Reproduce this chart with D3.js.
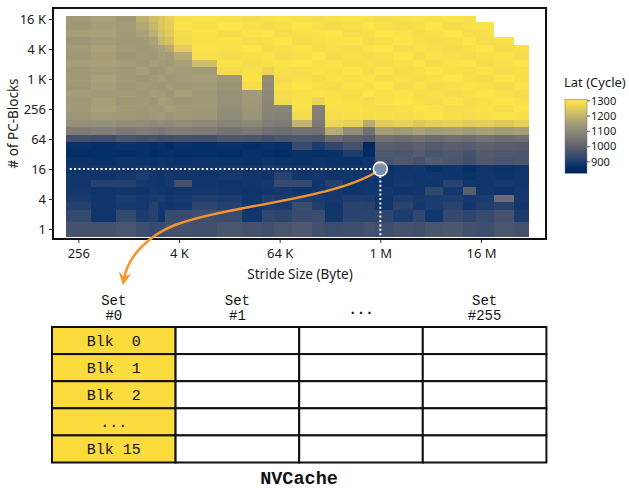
<!DOCTYPE html>
<html><head><meta charset="utf-8">
<script src="https://cdn.jsdelivr.net/npm/d3@7"></script>
<style>
html,body{margin:0;padding:0;background:#fff;}
svg{display:block;}
text{font-family:"Noto Sans",sans-serif;}
.mono{font-family:"Liberation Mono",monospace;white-space:pre;}
</style></head><body>
<svg id="chart" width="629" height="489"></svg>
<script>
// ---------- data ----------
const strides = [256,512,1024,1536,2048,2560,3072,4096,8192,16384,32768,49152,65536,131072,196608,262144,524288,786432,1048576,2097152,3145728,4194304,8388608,12582912,16777216,33554432,50331648];
const pcBlocks = [16384,12288,8192,6144,4096,3072,2048,1536,1024,768,512,384,256,192,128,96,64,48,32,24,16,12,8,6,4,3,2,1];
const latency = [
 [1145,1155,1140,1190,1220,1240,1260,1290,1295, 1290,1285,1290,1295,1290,1285,1290,1295,1290, 1285,1290,1295,1290,1295,1290,null,null,null],
 [1140,1150,1145,1175,1210,1240,1255,1295,1290, 1300,1290,1285,1290,1300,1290,1285,1290,1300, 1290,1285,1290,1300,1285,1290,1295,null,null],
 [1150,1155,1145,1155,1190,1230,1250,1285,1295, 1285,1295,1300,1285,1290,1295,1300,1285,1290, 1300,1295,1285,1290,1300,1285,1290,null,null],
 [1135,1145,1140,1145,1155,1210,1230,1280,1290, 1295,1285,1290,1300,1285,1290,1295,1300,1285, 1290,1300,1290,1285,1290,1300,1285,1290,null],
 [1145,1160,1145,1140,1145,1155,1180,1250,1295, 1290,1300,1285,1290,1295,1285,1290,1285,1295, 1300,1285,1295,1290,1285,1290,1300,1285,1290],
 [1140,1150,1135,1145,1140,1150,1145,1180,1290, 1285,1290,1295,1285,1290,1300,1285,1290,1285, 1290,1300,1285,1295,1290,1285,1290,1295,1285],
 [1150,1155,1150,1140,1150,1145,1140,1155,1220, 1295,1285,1290,1295,1300,1290,1295,1285,1290, 1285,1290,1300,1285,1295,1300,1285,1290,1300],
 [1140,1145,1140,1150,1135,1140,1150,1145,1145, 1280,1290,1270,1290,1285,1295,1290,1300,1285, 1295,1285,1290,1300,1290,1285,1295,1285,1290],
 [1145,1155,1145,1135,1145,1150,1140,1145,1150, 1135,1295,1110,1285,1290,1285,1295,1290,1295, 1285,1290,1285,1290,1300,1290,1285,1300,1290],
 [1135,1150,1140,1145,1140,1135,1145,1140,1145, 1130,1285,1105,1290,1300,1290,1285,1295,1290, 1300,1285,1295,1285,1290,1295,1290,1285,1295],
 [1150,1145,1145,1140,1150,1145,1135,1150,1140, 1125,1145,1100,1285,1290,1295,1290,1285,1300, 1290,1295,1285,1290,1285,1290,1300,1290,1285],
 [1140,1150,1135,1145,1135,1150,1145,1135,1145, 1120,1140,1095,1280,1295,1270,1295,1290,1285, 1295,1300,1290,1285,1295,1285,1290,1300,1290],
 [1145,1155,1145,1140,1145,1140,1150,1145,1140, 1115,1135,1090,1090,1290,1080,1290,1295,1290, 1285,1290,1300,1295,1285,1290,1295,1285,1300],
 [1135,1145,1140,1135,1140,1145,1135,1140,1135, 1105,1130,1085,1080,1280,1075,1285,1290,1285, 1290,1285,1290,1300,1290,1285,1290,1295,1290],
 [1115,1120,1110,1110,1105,1110,1105,1110,1105, 1085,1100,1070,1065,1200,1060,1270,1260,1180, 1250,1260,1245,1255,1260,1250,1255,1245,1260],
 [1065,1075,1060,1070,1065,1055,1065,1070,1065, 1045,1055,1035,1030,1045,1035,1180,1110,1040, 1150,1140,1160,1145,1150,1140,1155,1145,1150],
 [960,950,965,955,960,950,955,960,955, 970,965,960,965,970,965,1020,1000,985, 1035,1030,1040,1025,1035,1030,1040,1030,1035],
 [870,865,875,870,865,870,860,870,865, 870,865,870,865,940,900,930,960,850, 990,985,995,980,990,985,1000,990,985],
 [860,865,860,870,860,865,870,860,865, 860,870,865,860,870,865,870,900,855, 975,970,985,965,975,960,980,975,970],
 [875,870,880,875,870,880,875,870,880, 875,870,880,875,870,880,875,870,880, 965,975,960,980,970,955,975,965,970],
 [880,885,880,890,880,885,880,885,880, 885,880,890,885,880,885,880,885,880, 875,880,885,870,880,865,880,875,880],
 [885,880,890,900,885,880,890,885,880, 890,885,880,920,885,890,880,885,890, 880,885,880,885,880,875,885,880,885],
 [885,915,915,890,885,880,890,960,885, 880,885,890,940,935,885,915,880,885, 880,890,885,880,920,885,880,890,885],
 [890,880,885,880,890,885,880,885,890, 885,880,885,890,880,885,890,880,885, 890,880,885,930,890,990,885,880,890],
 [895,885,900,890,895,900,890,895,905, 900,885,905,895,910,900,890,905,900, 885,905,895,900,905,890,900,1030,890],
 [915,885,895,890,915,890,885,890,925, 915,885,900,895,945,905,885,920,915, 885,920,890,900,920,885,905,920,885],
 [935,882,935,900,915,880,940,940,950, 945,885,930,925,940,945,885,920,920, 925,900,930,885,935,925,940,960,900],
 [960,960,965,950,940,940,955,960,955, 965,960,955,965,975,955,945,948,960, 950,960,955,965,970,958,948,965,960]
];
const xTickValues = [256,4096,65536,1048576,16777216];
const xTickLabels = ["256","4 K","64 K","1 M","16 M"];
const yTickValues = [1,4,16,64,256,1024,4096,16384];
const yTickLabels = ["1","4","16","64","256","1 K","4 K","16 K"];
const latLimits = [825,1310];
const legendTicks = [900,1000,1100,1200,1300];
const highlight = {stride:1048576, blocks:16};
const setLabels = [["Set","#0"],["Set","#1"],["..."],["Set","#255"]];
const blockLabels = ["Blk  0","Blk  1","Blk  2","...","Blk 15"];

// ---------- layout ----------
const svg = d3.select("#chart");
const panel = {x:53, y:8, w:493, h:231};
const x = d3.scaleLog().base(2).domain([256,16777216]).range([78.3,481]);
const y = d3.scaleLog().base(2).domain([1,16384]).range([229,19]);
const color = d3.scaleSequential(d3.interpolateCividis).domain(latLimits).clamp(true);

const lx = strides.map(Math.log2);
const xEdges = strides.map((s,i)=>{
  const l = lx[i];
  const left = i===0 ? l-(lx[1]-l)/2 : (l+lx[i-1])/2;
  const right = i===lx.length-1 ? l+(l-lx[i-1])/2 : (l+lx[i+1])/2;
  return [x(2**left), x(2**right)];
});
const ly = pcBlocks.map(Math.log2);
const yEdges = pcBlocks.map((b,i)=>{
  const l = ly[i];
  const top = i===0 ? l+(l-ly[1])/2 : (l+ly[i-1])/2;
  const bot = i===ly.length-1 ? l-(ly[i-1]-l)/2 : (l+ly[i+1])/2;
  return [y(2**top), y(2**bot)];
});

const cells = [];
latency.forEach((row,ri)=>row.forEach((v,ci)=>{ if(v!==null) cells.push({ri,ci,v}); }));

svg.append("g").attr("shape-rendering","crispEdges")
  .selectAll("rect").data(cells).join("rect")
  .attr("x",d=>xEdges[d.ci][0]).attr("width",d=>xEdges[d.ci][1]-xEdges[d.ci][0]+0.5)
  .attr("y",d=>yEdges[d.ri][0]).attr("height",d=>yEdges[d.ri][1]-yEdges[d.ri][0]+0.5)
  .attr("fill",d=>color(d.v));

// highlight lines
const hx = x(highlight.stride), hy = y(highlight.blocks);
const hmLeft = xEdges[0][0], hmBottom = yEdges[yEdges.length-1][1];
svg.append("line").attr("x1",hmLeft+4).attr("x2",hx-7).attr("y1",hy).attr("y2",hy)
  .attr("stroke","#fff").attr("stroke-width",2).attr("stroke-dasharray","2,2.4");
svg.append("line").attr("x1",hx).attr("x2",hx).attr("y1",hy+7).attr("y2",hmBottom)
  .attr("stroke","#fff").attr("stroke-width",2).attr("stroke-dasharray","2,2.4");

// panel border
svg.append("rect").attr("x",panel.x).attr("y",panel.y).attr("width",panel.w).attr("height",panel.h)
  .attr("fill","none").attr("stroke","#111").attr("stroke-width",2);

// axes
const xAxis = svg.append("g").attr("transform",`translate(0,${panel.y+panel.h+1})`)
  .call(d3.axisBottom(x).tickValues(xTickValues).tickFormat((d,i)=>xTickLabels[i]).tickSize(3).tickPadding(6));
const yAxis = svg.append("g").attr("transform",`translate(${panel.x-1},0)`)
  .call(d3.axisLeft(y).tickValues(yTickValues).tickFormat((d,i)=>yTickLabels[i]).tickSize(3).tickPadding(3));
[xAxis,yAxis].forEach(g=>{
  g.select(".domain").remove();
  g.selectAll(".tick line").attr("stroke","#333");
  g.selectAll(".tick text").attr("fill","#1a1a1a").style("font-size","13px").style("font-family","'Noto Sans',sans-serif");
});
svg.append("text").attr("x",300).attr("y",279).attr("text-anchor","middle")
  .style("font-size","13.5px").attr("fill","#1a1a1a").text("Stride Size (Byte)");
svg.append("text").attr("transform",`translate(18,${panel.y+panel.h/2}) rotate(-90)`).attr("text-anchor","middle")
  .style("font-size","13.5px").attr("fill","#1a1a1a").text("# of PC-Blocks");

// orange arrow
const defs = svg.append("defs");
defs.append("marker").attr("id","ah").attr("viewBox","0 0 10 10").attr("refX",5).attr("refY",5)
  .attr("markerWidth",5).attr("markerHeight",5).attr("orient","auto-start-reverse")
  .append("path").attr("d","M0,0 L10,5 L0,10 L3,5 Z").attr("fill","#f8962e");
const arrowEnd = [124,279];
const p = d3.path();
p.moveTo(hx-4, hy+3);
p.bezierCurveTo(330,200,230,205,175,225);
p.bezierCurveTo(150,235,128,255,arrowEnd[0],arrowEnd[1]);
svg.append("path").attr("d",p.toString()).attr("fill","none").attr("stroke","#f8962e")
  .attr("stroke-width",2.5).attr("marker-end","url(#ah)");

// highlight circle
svg.append("circle").attr("cx",hx).attr("cy",hy).attr("r",7)
  .attr("fill","rgba(255,255,255,0.45)").attr("stroke","#fff").attr("stroke-width",1.5);

// legend
const lg = defs.append("linearGradient").attr("id","lgrad").attr("x1",0).attr("y1",1).attr("x2",0).attr("y2",0);
d3.range(0,1.0001,0.05).forEach(t=>lg.append("stop").attr("offset",t).attr("stop-color",d3.interpolateCividis(t)));
const ly2 = d3.scaleLinear().domain(latLimits).range([173.3,99.3]);
svg.append("text").attr("x",564).attr("y",87).style("font-size","13px").attr("fill","#1a1a1a").text("Lat (Cycle)");
svg.append("rect").attr("x",565).attr("y",ly2(latLimits[1])).attr("width",22)
  .attr("height",ly2(latLimits[0])-ly2(latLimits[1])).attr("fill","url(#lgrad)")
  .attr("stroke","#777").attr("stroke-width",0.5);
const lt = svg.append("g").selectAll("g").data(legendTicks).join("g");
lt.append("line").attr("x1",587).attr("x2",590).attr("y1",d=>ly2(d)).attr("y2",d=>ly2(d)).attr("stroke","#555");
lt.append("text").attr("x",591).attr("y",d=>ly2(d)).attr("dy","0.35em")
  .style("font-size","11px").attr("fill","#1a1a1a").text(d=>d);

// cache table
const tb = {x:52, y:327, colW:123.6, rowH:27.1};
const tg = svg.append("g");
setLabels.forEach((lab,s)=>{
  const cx = tb.x + tb.colW*(s+0.5);
  if(lab.length===2){
    tg.append("text").attr("class","mono").attr("x",cx).attr("y",305).attr("text-anchor","middle")
      .style("font-size","14px").attr("fill","#111").text(lab[0]);
    tg.append("text").attr("class","mono").attr("x",cx).attr("y",320).attr("text-anchor","middle")
      .style("font-size","14px").attr("fill","#111").text(lab[1]);
  } else {
    tg.append("text").attr("class","mono").attr("x",cx).attr("y",314).attr("text-anchor","middle")
      .style("font-size","14px").style("font-weight","bold").attr("fill","#111").text(lab[0]);
  }
  blockLabels.forEach((b,r)=>{
    tg.append("rect").attr("x",tb.x+tb.colW*s).attr("y",tb.y+tb.rowH*r)
      .attr("width",tb.colW).attr("height",tb.rowH)
      .attr("fill",s===0?"#fcdc3c":"#fff").attr("stroke","#111").attr("stroke-width",2);
  });
});
blockLabels.forEach((b,r)=>{
  tg.append("text").attr("class","mono").attr("x",tb.x+tb.colW*0.5).attr("y",tb.y+tb.rowH*(r+0.5))
    .attr("dy","0.35em").attr("text-anchor","middle").style("font-size","15px").attr("fill","#111").text(b);
});
tg.append("text").attr("class","mono").attr("x",299).attr("y",484).attr("text-anchor","middle")
  .style("font-size","18.5px").style("font-weight","bold").attr("fill","#111").text("NVCache");
</script>
</body></html>
